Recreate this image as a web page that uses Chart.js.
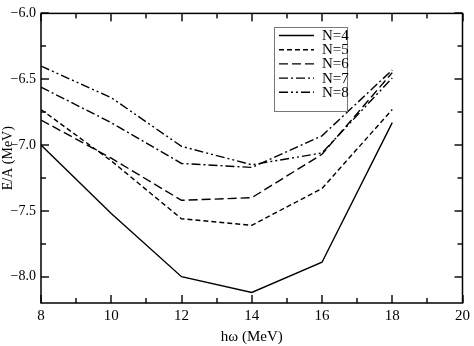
<!DOCTYPE html>
<html>
<head>
<meta charset="utf-8">
<script src="https://cdn.jsdelivr.net/npm/chart.js@4.4.1/dist/chart.umd.min.js"></script>
<style>
html,body{margin:0;padding:0;background:#fff;}
#wrap{width:474px;height:346px;position:relative;}
</style>
</head>
<body>
<div id="wrap"><canvas id="c" width="474" height="346"></canvas></div>
<script>
// ---- data ----
const hw = [8, 10, 12, 14, 16, 18];
const seriesNames = ["N=4", "N=5", "N=6", "N=7", "N=8"];
const eN4 = [-7.00, -7.52, -8.00, -8.12, -7.89, -6.83];
const eN5 = [-6.73, -7.12, -7.56, -7.61, -7.33, -6.73];
const eN6 = [-6.81, -7.10, -7.42, -7.40, -7.07, -6.45];
const eN7 = [-6.56, -6.83, -7.14, -7.17, -6.93, -6.43];
const eN8 = [-6.40, -6.64, -7.01, -7.15, -7.06, -6.49];
const xTicks = [8, 10, 12, 14, 16, 18, 20];
const yTicks = [-8.0, -7.5, -7.0, -6.5, -6.0];

const seriesValues = [eN4, eN5, eN6, eN7, eN8];
const dashes = [[], [5, 3], [9, 4], [9, 3, 2, 3], [9, 3, 2, 3, 2, 3]];
const FONT = "'Liberation Serif', 'DejaVu Serif', serif";

const datasets = seriesValues.map((vals, i) => ({
  label: seriesNames[i],
  data: hw.map((x, j) => ({x: x, y: vals[j]})),
  borderColor: '#000',
  borderWidth: 1.4,
  borderDash: dashes[i],
  pointRadius: 0,
  fill: false,
  tension: 0
}));

const frame = {
  id: 'frame',
  afterDraw(chart) {
    const ctx = chart.ctx;
    const a = chart.chartArea;
    const xs = chart.scales.x, ys = chart.scales.y;
    ctx.save();
    ctx.setLineDash([]);
    ctx.fillStyle = '#000';
    // inward ticks
    for (let v = 8; v <= 20; v += 1) {
      const px = Math.round(xs.getPixelForValue(v));
      const len = (v % 2 === 0) ? 8 : 5;
      ctx.fillRect(px - 0.7, a.bottom - len, 1.4, len);
      ctx.fillRect(px - 0.7, a.top, 1.4, len);
    }
    for (let k = 0; k <= 8; k++) {
      const v = -8.0 + k * 0.25;
      const py = Math.round(ys.getPixelForValue(v));
      const len = (k % 2 === 0) ? 8 : 5;
      ctx.fillRect(a.left, py - 0.7, len, 1.4);
      ctx.fillRect(a.right - len, py - 0.7, len, 1.4);
    }
    ctx.strokeStyle = '#000';
    ctx.lineWidth = 1.5;
    ctx.strokeRect(a.left, a.top, a.right - a.left, a.bottom - a.top);
    // legend
    const bx = 274, by = 27, bw = 73, bh = 84;
    ctx.fillStyle = '#fff';
    ctx.fillRect(bx, by, bw, bh);
    ctx.strokeStyle = '#777';
    ctx.lineWidth = 1;
    ctx.strokeRect(bx + 0.5, by + 0.5, bw, bh);
    ctx.font = "15px " + FONT;
    ctx.textBaseline = 'middle';
    ctx.textAlign = 'left';
    ctx.fillStyle = '#000';
    chart.data.datasets.forEach((ds, i) => {
      const yy = by + 8.5 + i * 14.2;
      ctx.strokeStyle = '#000';
      ctx.lineWidth = 1.4;
      ctx.setLineDash(ds.borderDash);
      ctx.beginPath();
      ctx.moveTo(279, yy); ctx.lineTo(314, yy);
      ctx.stroke();
      ctx.setLineDash([]);
      ctx.fillText(ds.label, 322, yy + 0.5);
    });
    ctx.restore();
  }
};

new Chart(document.getElementById('c'), {
  type: 'line',
  data: {datasets: datasets},
  options: {
    responsive: false,
    animation: false,
    layout: {padding: {top: 6, right: 8, left: 0, bottom: 0}},
    plugins: {legend: {display: false}, tooltip: {enabled: false}},
    scales: {
      x: {
        type: 'linear', min: 8, max: 20,
        afterBuildTicks: s => { s.ticks = xTicks.map(v => ({value: v})); },
        afterFit: s => { s.height = 43; },
        grid: {display: false, drawTicks: false},
        border: {display: false},
        ticks: {color: '#000', padding: 4, font: {family: FONT, size: 15}, maxRotation: 0,
          callback: v => String(v)},
        title: {display: true, text: 'hω (MeV)', color: '#000', font: {family: FONT, size: 15}, padding: {top: 3, bottom: 0}}
      },
      y: {
        type: 'linear', min: -8.2, max: -6.0,
        afterBuildTicks: s => { s.ticks = yTicks.map(v => ({value: v})); },
        afterFit: s => { s.width = 41; },
        grid: {display: false, drawTicks: false},
        border: {display: false},
        ticks: {color: '#000', padding: 5, font: {family: FONT, size: 14},
          callback: v => (v < 0 ? '\u2212' : '') + Math.abs(v).toFixed(1)},
        title: {display: true, text: 'E/A (MeV)', color: '#000', font: {family: FONT, size: 14}, padding: {top: 0, bottom: 0}}
      }
    }
  },
  plugins: [frame]
});
</script>
</body>
</html>
